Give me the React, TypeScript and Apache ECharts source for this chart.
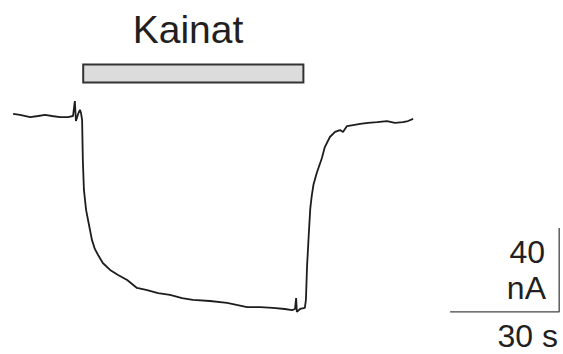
import React, { useEffect, useRef } from "react";
import * as echarts from "echarts";

// Time (s) and membrane current (nA, relative to baseline)
const timeS = [
  3.6, 5.5, 8.3, 10.5, 12.4, 14.3, 16.5, 18.7, 20.1, 20.6, 20.9, 21.5, 22.0, 22.3, 22.6,
  22.8, 23.1, 23.7, 24.5, 25.3, 26.1, 27.0, 28.3, 30.3, 32.5, 35.0, 37.7, 40.5, 43.5,
  46.8, 50.1, 53.1, 57.8, 62.5, 68.0, 71.6, 75.1, 78.4, 80.4, 81.2, 81.5, 81.7, 82.6,
  83.9, 84.2, 84.5, 85.0, 85.4, 85.8, 86.3, 87.2, 88.6, 89.4, 90.8, 92.2, 93.6, 94.4, 95.5,
  97.2, 99.1, 101.3, 103.8, 106.5, 108.7, 110.9, 112.3, 113.7,
];
const currentNA = [
  1.0, 0.5, -0.5, 0, 0.5, 0, -0.5, -0.5, 0, 7.1, -2.4, 1.0, 2.9, 1.4, -1.9,
  -21, -35.2, -44.8, -51.9, -59.0, -63.3, -66.2, -70.0, -73.3, -75.7, -78.1, -81.9, -82.9, -84.3,
  -85.2, -86.7, -87.6, -88.1, -89.0, -91.0, -91.0, -91.4, -91.9, -92.4, -91.9, -86.7, -93.3, -91.9,
  -91.4, -87.6, -71.9, -55.7, -44.0, -38.0, -32.5, -27.0, -20.0, -14.8, -10.0, -7.6, -6.7, -7.6, -4.8,
  -4.3, -3.8, -3.3, -2.9, -2.4, -3.3, -2.9, -2.4, -1.4,
];

// Kainate application bar (s) and its vertical placement (nA units)
const kainatLabel = "Kainat";
const kainatStartS = 22.9;
const kainatEndS = 83.5;
const kainatBarTopNA = 24.5;
const kainatBarBottomNA = 16.0;

// Scale bar
const scaleTimeS = 30;
const scaleCurrentNA = 40;
const scaleOriginS = 123.9;
const scaleOriginNA = -93.3;
const scaleLabels = ["40", "nA", "30 s"];

const W = 563;
const H = 354;
const PX_PER_S = 109 / 30;
const PX_PER_NA = 84 / 40;
const BASE_Y = 116;

export default function App() {
  const ref = useRef<HTMLDivElement>(null);
  useEffect(() => {
    document.body.style.margin = "0";
    const chart = echarts.init(ref.current!, null, { renderer: "svg" });
    const font = "'Liberation Sans', Arial, sans-serif";
    const trace = timeS.map((t, i) => [t, currentNA[i]]);
    const scaleBar = [
      [scaleOriginS, scaleOriginNA],
      [scaleOriginS + scaleTimeS, scaleOriginNA],
      [scaleOriginS + scaleTimeS, scaleOriginNA + scaleCurrentNA],
    ];
    chart.setOption({
      animation: false,
      backgroundColor: "#ffffff",
      grid: { left: 0, right: 0, top: 0, bottom: 0, containLabel: false },
      xAxis: {
        type: "value",
        min: 0,
        max: W / PX_PER_S,
        show: false,
      },
      yAxis: {
        type: "value",
        min: -(H - BASE_Y) / PX_PER_NA,
        max: BASE_Y / PX_PER_NA,
        show: false,
      },
      series: [
        {
          type: "line",
          data: trace,
          showSymbol: false,
          symbol: "none",
          lineStyle: { color: "#1e1c1d", width: 1.8 },
          silent: true,
          markArea: {
            silent: true,
            itemStyle: { color: "#dcdcdc", borderColor: "#333333", borderWidth: 2 },
            label: { show: false },
            data: [
              [
                { xAxis: kainatStartS, yAxis: kainatBarTopNA },
                { xAxis: kainatEndS, yAxis: kainatBarBottomNA },
              ],
            ],
          },
        },
        {
          type: "line",
          data: scaleBar,
          showSymbol: false,
          symbol: "none",
          lineStyle: { color: "#444444", width: 1.3 },
          silent: true,
        },
      ],
      graphic: [
        {
          type: "text",
          x: 188,
          y: 29.5,
          style: {
            text: kainatLabel,
            font: `39px ${font}`,
            fill: "#231f20",
            textAlign: "center",
            textVerticalAlign: "middle",
          },
        },
        {
          type: "text",
          x: 545,
          y: 252,
          style: {
            text: scaleLabels[0],
            font: `32px ${font}`,
            fill: "#231f20",
            textAlign: "right",
            textVerticalAlign: "middle",
          },
        },
        {
          type: "text",
          x: 546,
          y: 288,
          style: {
            text: scaleLabels[1],
            font: `32px ${font}`,
            fill: "#231f20",
            textAlign: "right",
            textVerticalAlign: "middle",
          },
        },
        {
          type: "text",
          x: 558,
          y: 336,
          style: {
            text: scaleLabels[2],
            font: `32px ${font}`,
            fill: "#231f20",
            textAlign: "right",
            textVerticalAlign: "middle",
          },
        },
      ],
    });
    return () => chart.dispose();
  }, []);
  return <div ref={ref} style={{ width: W, height: H }} />;
}
